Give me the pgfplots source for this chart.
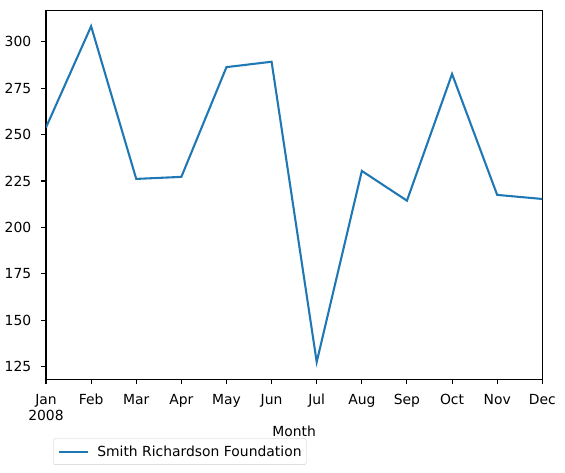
\documentclass[border=0pt]{standalone}
\usepackage{fontspec}
\setmainfont{DejaVu Sans}
\usepackage{pgfplots}
\pgfplotsset{compat=1.18}
\definecolor{mplblue}{HTML}{1F77B4}
\newcommand{\mplfont}{\fontsize{13.9bp}{16.7bp}\selectfont}

\begin{document}
\begin{tikzpicture}
\path[use as bounding box] (0,0) rectangle (565bp,473bp);
\begin{axis}[
    at={(46bp,93.7bp)}, anchor=south west,
    scale only axis,
    width=496.3bp, height=369bp,
    xmin=0, xmax=11,
    ymin=118.2, ymax=316.9,
    xtick={0,...,11},
    xticklabels={{Jan\\2008},Feb,Mar,Apr,May,Jun,Jul,Aug,Sep,Oct,Nov,Dec},
    ytick={125,150,175,200,225,250,275,300},
    xtick pos=bottom, ytick pos=left,
    tick align=outside,
    major tick length=4.86bp,
    every tick/.style={black, line width=1.1bp},
    axis line style={line width=1.1bp},
    /pgf/number format/assume math mode=true,
    every tick label/.append style={font=\mplfont},
    xticklabel style={anchor=north, inner sep=0pt, yshift=-9.7bp, align=center},
    yticklabel style={anchor=east, inner sep=0pt, xshift=-9.7bp},
    xlabel={Month},
    xlabel style={at={(axis description cs:0.5,0)}, anchor=center, inner sep=0pt,
        yshift=-51.7bp, font=\mplfont},
    legend style={at={(axis description cs:0.0147,-0.16)}, anchor=north west,
        draw=black!20, rounded corners=2bp, font=\mplfont,
        inner xsep=4.7bp, inner ysep=7bp, nodes={inner sep=0pt}},
    legend cell align=left,
    legend image code/.code={\draw[#1] (0bp,0bp) -- (29bp,0bp); \path (37bp,0bp);},
]
\addplot[mplblue, line width=2.08bp] coordinates {
    (0,253.8) (1,308.3) (2,226.1) (3,227.2) (4,286.3) (5,289.2)
    (6,127.5) (7,230.4) (8,214.4) (9,282.6) (10,217.5) (11,215.3)
};
\legend{Smith Richardson Foundation}
\end{axis}
\end{tikzpicture}
\end{document}
